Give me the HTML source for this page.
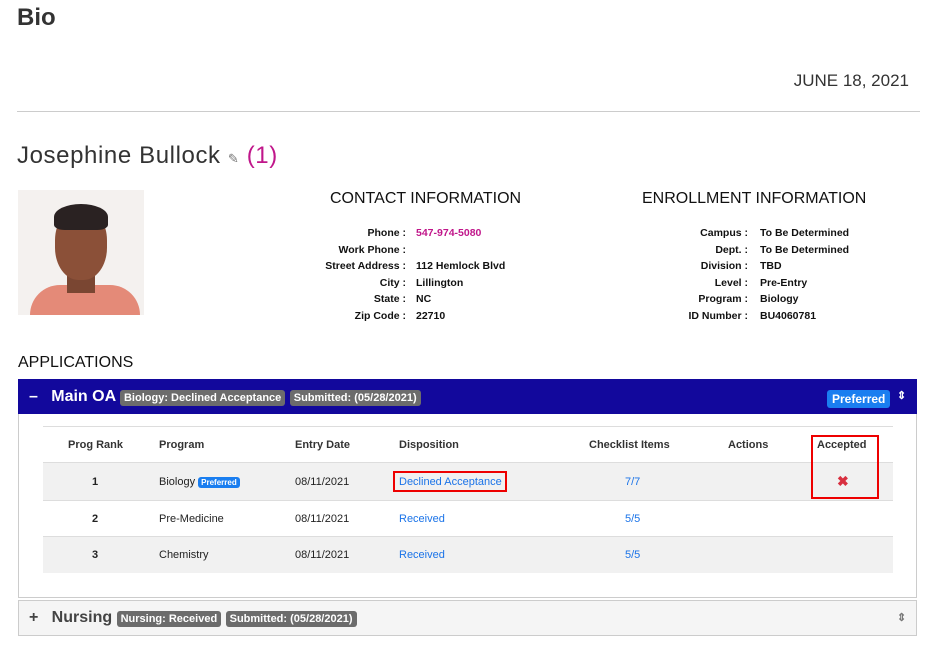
<!DOCTYPE html><html><head><style>
body{margin:0;width:936px;height:658px;background:#fff;font-family:"Liberation Sans",sans-serif;position:relative;overflow:hidden;color:#222}
.a{position:absolute;white-space:nowrap}
.lbl{font-size:10.5px;font-weight:bold;color:#111}
.r{text-align:right}
.badge{display:inline-block;background:#6c6c6c;color:#fff;font-size:11px;font-weight:bold;padding:2px 4px;border-radius:3px;vertical-align:middle;position:relative;top:1px}
.th{font-size:11px;font-weight:bold;color:#333}
.td{font-size:11px;color:#222}
.lk{color:#1a73e8}
</style></head><body>
<div class="a" style="left:17px;top:4px;font-size:24px;font-weight:bold;color:#333">Bio</div>
<div class="a" style="right:27px;top:71px;font-size:17px;color:#333">JUNE 18, 2021</div>
<div class="a" style="left:17px;top:111px;width:903px;height:1px;background:#ccc"></div>
<div class="a" style="left:17px;top:142px;font-size:24px;letter-spacing:0.6px;color:#333">Josephine Bullock <span style="font-size:13px;color:#777">✎</span> <span style="color:#c0168a">(1)</span></div>
<div class="a" style="left:18px;top:190px;width:126px;height:125px;background:#f4f1ef;overflow:hidden">
<div class="a" style="left:12px;top:95px;width:110px;height:40px;background:#e48a78;border-radius:30px 30px 0 0"></div>
<div class="a" style="left:49px;top:78px;width:28px;height:25px;background:#7a4632"></div>
<div class="a" style="left:37px;top:18px;width:52px;height:72px;background:#8b5038;border-radius:45%"></div>
<div class="a" style="left:36px;top:14px;width:54px;height:26px;background:#2a2222;border-radius:50% 50% 20% 20%"></div>
</div>
<div class="a" style="left:330px;top:190px;font-size:16px;color:#111">CONTACT INFORMATION</div>
<div class="a" style="left:642px;top:190px;font-size:16px;color:#111">ENROLLMENT INFORMATION</div>
<div class="a lbl r" style="left:250px;width:156px;top:225px;line-height:16.5px">Phone :<br>Work Phone :<br>Street Address :<br>City :<br>State :<br>Zip Code :</div>
<div class="a lbl" style="left:416px;top:225px;line-height:16.5px"><span style="color:#c0168a">547-974-5080</span><br>&nbsp;<br>112 Hemlock Blvd<br>Lillington<br>NC<br>22710</div>
<div class="a lbl r" style="left:600px;width:148px;top:225px;line-height:16.5px">Campus :<br>Dept. :<br>Division :<br>Level :<br>Program :<br>ID Number :</div>
<div class="a lbl" style="left:760px;top:225px;line-height:16.5px">To Be Determined<br>To Be Determined<br>TBD<br>Pre-Entry<br>Biology<br>BU4060781</div>
<div class="a" style="left:18px;top:354px;font-size:16px;color:#111">APPLICATIONS</div>
<div class="a" style="left:18px;top:379px;width:897px;height:217px;border:1px solid #ccc"></div>
<div class="a" style="left:18px;top:379px;width:899px;height:35px;background:#12089c"></div>
<div class="a" style="left:29px;top:388px;color:#fff;font-size:16px;font-weight:bold">–&nbsp;&nbsp; Main OA <span class="badge">Biology: Declined Acceptance</span> <span class="badge">Submitted: (05/28/2021)</span></div>
<div class="a" style="left:827px;top:389px"><span class="badge" style="background:#1a7ef0;font-size:12px;padding:2px 5px">Preferred</span></div>
<div class="a" style="left:897px;top:389px;color:#fff;font-size:11px;font-weight:bold">⇕</div>
<div class="a" style="left:43px;top:426px;width:850px;height:1px;background:#ddd"></div>
<div class="a" style="left:43px;top:462px;width:850px;height:37px;background:#f1f1f1;border-top:1px solid #ddd;border-bottom:1px solid #ddd"></div>
<div class="a" style="left:43px;top:536px;width:850px;height:36px;background:#f1f1f1;border-top:1px solid #ddd"></div>
<div class="a th" style="left:68px;top:439px">Prog Rank</div>
<div class="a th" style="left:159px;top:439px">Program</div>
<div class="a th" style="left:295px;top:439px">Entry Date</div>
<div class="a th" style="left:399px;top:439px">Disposition</div>
<div class="a th" style="left:589px;top:439px">Checklist Items</div>
<div class="a th" style="left:728px;top:439px">Actions</div>
<div class="a th" style="left:817px;top:439px">Accepted</div>
<div class="a" style="left:811px;top:435px;width:64px;height:60px;border:2px solid #e00"></div>
<div class="a td" style="left:92px;top:476px;font-weight:bold">1</div>
<div class="a td" style="left:159px;top:476px">Biology <span style="background:#1a7ef0;color:#fff;font-size:8px;font-weight:bold;padding:1px 3px;border-radius:3px">Preferred</span></div>
<div class="a td" style="left:295px;top:476px">08/11/2021</div>
<div class="a" style="left:393px;top:471px;width:110px;height:17px;border:2px solid #e00"></div>
<div class="a td lk" style="left:399px;top:476px">Declined Acceptance</div>
<div class="a td lk" style="left:625px;top:476px">7/7</div>
<div class="a" style="left:837px;top:473px;color:#d83040;font-size:14px;font-weight:bold">✖</div>
<div class="a td" style="left:92px;top:513px;font-weight:bold">2</div>
<div class="a td" style="left:159px;top:513px">Pre-Medicine</div>
<div class="a td" style="left:295px;top:513px">08/11/2021</div>
<div class="a td lk" style="left:399px;top:513px">Received</div>
<div class="a td lk" style="left:625px;top:513px">5/5</div>
<div class="a td" style="left:92px;top:549px;font-weight:bold">3</div>
<div class="a td" style="left:159px;top:549px">Chemistry</div>
<div class="a td" style="left:295px;top:549px">08/11/2021</div>
<div class="a td lk" style="left:399px;top:549px">Received</div>
<div class="a td lk" style="left:625px;top:549px">5/5</div>
<div class="a" style="left:18px;top:600px;width:897px;height:34px;background:#f5f5f5;border:1px solid #ccc"></div>
<div class="a" style="left:29px;top:609px;color:#444;font-size:16px;font-weight:bold">+&nbsp;&nbsp; Nursing <span class="badge">Nursing: Received</span> <span class="badge">Submitted: (05/28/2021)</span></div>
<div class="a" style="left:897px;top:611px;color:#777;font-size:11px;font-weight:bold">⇕</div>
</body></html>
